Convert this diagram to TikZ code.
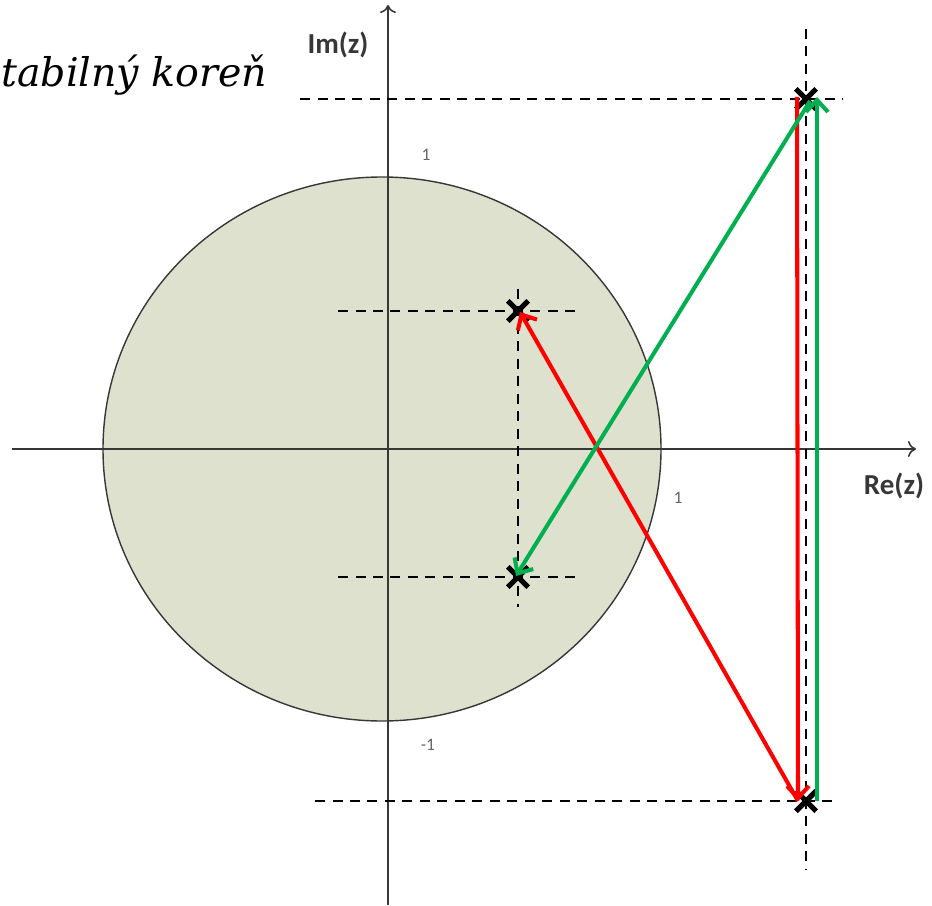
\documentclass[tikz,border=0pt]{standalone}
\usepackage{fontspec}
\newfontfamily\calibri{Carlito}
\newfontfamily\serifit{DejaVu Serif}
\usetikzlibrary{arrows.meta, positioning, calc, shapes.misc}
\definecolor{diskfill}{RGB}{221,225,205}
\definecolor{rootred}{RGB}{255,0,0}
\definecolor{rootgreen}{RGB}{0,176,80}
\definecolor{axisgray}{RGB}{55,55,55}

\begin{document}
\begin{tikzpicture}[
    x=0.02cm, y=-0.02cm,
    >={Straight Barb[length=2.4mm, width=4.4mm]},
    axis/.style={draw=axisgray, line width=0.9pt, -{To[length=1.6mm, width=3.2mm]}},
    guide/.style={draw, line width=0.8pt, dash pattern=on 2mm off 1.5mm},
    pole/.style={draw, cross out, line width=3pt, minimum size=0.3cm, inner sep=0pt},
    move/.style={->, line width=2.3pt},
    axlabel/.style={font=\calibri\bfseries\fontsize{16.5}{18}\selectfont, text=axisgray},
    tick/.style={font=\calibri\fontsize{10}{11}\selectfont, text=black!60},
]
    \useasboundingbox (0,0) rectangle (932,905);
    % unit disc
    \draw[draw=axisgray, fill=diskfill, line width=0.8pt] (382,449) ellipse [x radius=279, y radius=272];
    % axes
    \coordinate (xL) at (12,449);
    \coordinate (xR) at (916,449);
    \coordinate (yB) at (388,905);
    \coordinate (yT) at (388,5);
    \draw[axis] (xL) -- (xR);
    \draw[axis] (yB) -- (yT);
    \node[axlabel] (re) at (894,486) {Re(z)};
    \node[axlabel] (im) at (338,45) {Im(z)};
    \node[tick] (t1) at (426,155) {1};
    \node[tick] (t2) at (678,498) {1};
    \node[tick] (t3) at (428,745) {-1};
    \node[font=\serifit\itshape\fontsize{22.5}{26}\selectfont, anchor=base west, inner sep=0pt] (title) at (1,87) {tabilný koreň};

    % roots
    \node[pole] (pIn1) at (518,311) {};
    \node[pole] (pIn2) at (518,577) {};
    \node[pole] (pOut1) at (806,99) {};
    \node[pole] (pOut2) at (806,801) {};

    % guide lines
    \draw[guide] ($(pIn1)+(-180,0)$) -- ($(pIn1)+(60,0)$);
    \draw[guide] ($(pIn2)+(-180,0)$) -- ($(pIn2)+(60,0)$);
    \draw[guide] ($(pIn1)+(0,-22)$) -- ($(pIn2)+(0,30)$);
    \draw[guide] ($(pOut1)+(-506,0)$) -- ($(pOut1)+(37,0)$);
    \draw[guide] ($(pOut2)+(-491,0)$) -- ($(pOut2)+(29,0)$);
    \draw[guide] ($(pOut1)+(0,-70)$) -- ($(pOut2)+(0,68)$);

    % mapping of the roots
    \draw[move, rootred] ($(pOut1)+(-9,-2)$) -- ($(pOut2)+(-8,0)$);
    \draw[move, rootred] ($(pOut2)+(-8,0)$) -- ($(pIn1)+(2,1)$);
    \draw[move, rootgreen] ($(pOut2)+(11,0)$) -- ($(pOut1)+(11,-2)$);
    \draw[move, rootgreen] ($(pOut1)+(4,2)$) -- ($(pIn2)+(-2,-1)$);
\end{tikzpicture}
\end{document}
